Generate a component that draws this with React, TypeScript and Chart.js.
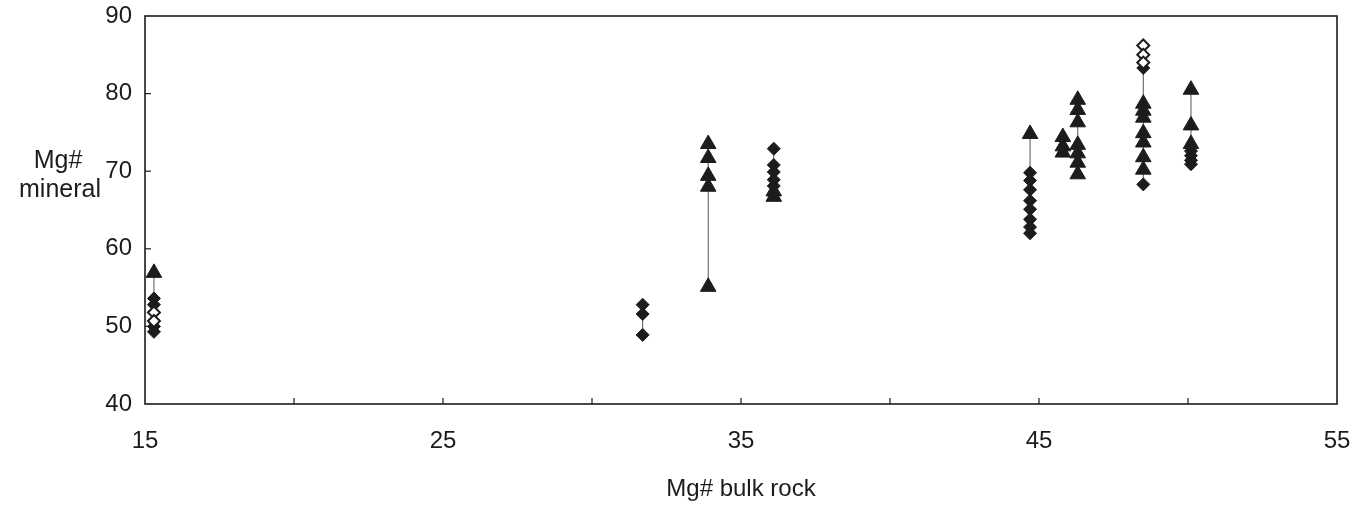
import React, { useEffect, useRef } from "react";
import { Chart, registerables } from "chart.js";

Chart.register(...registerables);

// Tick labels
const xTickLabels = [15, 25, 35, 45, 55];
const yTickLabels = [40, 50, 60, 70, 80, 90];

// Mg# of bulk rock for each sample (x position of each column)
const bulkRock = [15.3, 31.7, 33.9, 36.1, 44.7, 45.8, 46.3, 48.5, 50.1];

// Mg# mineral values per sample
const triangleValues = [
  [56.9],
  [],
  [73.5, 71.7, 69.4, 68.0, 55.1],
  [67.4, 66.7],
  [74.8],
  [74.4, 73.2, 72.4],
  [79.2, 77.9, 76.3, 73.4, 72.3, 71.1, 69.6],
  [78.7, 77.8, 76.9, 74.9, 73.7, 71.8, 70.2],
  [80.5, 75.9, 73.5],
];
const diamondValues = [
  [53.6, 52.8, 50.0, 49.3],
  [52.8, 51.6, 48.9],
  [],
  [72.9, 70.8, 69.9, 68.9, 68.1],
  [69.8, 68.8, 67.6, 66.2, 65.1, 63.8, 62.8, 62.0],
  [],
  [],
  [83.3, 68.3],
  [72.6, 72.0, 71.4, 70.9],
];
const openDiamondValues = [
  [51.8, 50.7],
  [],
  [],
  [],
  [],
  [],
  [],
  [86.2, 85.0, 84.0],
  [],
];

const FONT = "'Liberation Sans', Arial, Helvetica, sans-serif";
const INK = "#1c1c1c";

function toPoints(groups: number[][]) {
  const pts: { x: number; y: number }[] = [];
  groups.forEach((vals, i) => vals.forEach((v) => pts.push({ x: bulkRock[i], y: v })));
  return pts;
}

function rangeLines() {
  const pts: { x: number; y: number | null }[] = [];
  bulkRock.forEach((x, i) => {
    const all = [...triangleValues[i], ...diamondValues[i], ...openDiamondValues[i]];
    if (all.length < 2) return;
    pts.push({ x, y: Math.min(...all) });
    pts.push({ x, y: Math.max(...all) });
    pts.push({ x, y: null });
  });
  return pts;
}

const framePlugin = {
  id: "frameAndTitles",
  afterDraw(chart: any) {
    const { ctx, chartArea } = chart;
    const { left, right, top, bottom } = chartArea;
    ctx.save();
    ctx.strokeStyle = INK;
    ctx.lineWidth = 1.6;
    ctx.strokeRect(left, top, right - left, bottom - top);
    // inward ticks
    ctx.lineWidth = 1.2;
    const xs = chart.scales.x;
    const ys = chart.scales.y;
    for (let v = 20; v <= 50; v += 5) {
      const px = xs.getPixelForValue(v);
      ctx.beginPath();
      ctx.moveTo(px, bottom);
      ctx.lineTo(px, bottom - 6);
      ctx.stroke();
    }
    for (let v = 50; v <= 80; v += 10) {
      const py = ys.getPixelForValue(v);
      ctx.beginPath();
      ctx.moveTo(left, py);
      ctx.lineTo(left + 6, py);
      ctx.stroke();
    }
    // titles
    ctx.fillStyle = INK;
    ctx.font = `24px ${FONT}`;
    ctx.textAlign = "center";
    ctx.textBaseline = "middle";
    ctx.fillText("Mg# bulk rock", (left + right) / 2, 489);
    ctx.font = `25px ${FONT}`;
    ctx.fillText("Mg#", 58, 161);
    ctx.fillText("mineral", 60, 190);
    ctx.restore();
  },
};

export default function App() {
  const ref = useRef<HTMLCanvasElement | null>(null);
  useEffect(() => {
    if (!ref.current) return;
    const chart = new Chart(ref.current, {
      type: "scatter",
      data: {
        datasets: [
          {
            label: "triangles",
            data: toPoints(triangleValues),
            pointStyle: "triangle",
            pointRadius: 9,
            backgroundColor: INK,
            borderColor: INK,
            borderWidth: 1,
            order: 1,
          },
          {
            label: "diamonds",
            data: toPoints(diamondValues),
            pointStyle: "rectRot",
            pointRadius: 6.5,
            backgroundColor: INK,
            borderColor: INK,
            borderWidth: 1,
            order: 2,
          },
          {
            label: "open diamonds",
            data: toPoints(openDiamondValues),
            pointStyle: "rectRot",
            pointRadius: 6,
            backgroundColor: "#ffffff",
            borderColor: INK,
            borderWidth: 2,
            order: 0,
          },
          {
            type: "line",
            label: "range",
            data: rangeLines() as any,
            showLine: true,
            spanGaps: false,
            pointRadius: 0,
            borderColor: "#555",
            borderWidth: 1,
            order: 10,
          } as any,
        ],
      },
      options: {
        animation: false,
        responsive: false,
        maintainAspectRatio: false,
        layout: { padding: { top: 16, right: 31, left: 0, bottom: 0 } },
        plugins: { legend: { display: false }, tooltip: { enabled: false } },
        scales: {
          x: {
            type: "linear",
            min: 15,
            max: 55,
            ticks: {
              stepSize: 5,
              autoSkip: false,
              maxRotation: 0,
              padding: 23,
              color: INK,
              font: { family: FONT, size: 24 },
              callback: (v: any) => (xTickLabels.includes(Number(v)) ? String(v) : ""),
            },
            grid: { drawOnChartArea: false, drawTicks: false, display: false },
            border: { display: false },
            afterFit: (s: any) => {
              s.height = 101;
              s.paddingLeft = 0;
              s.paddingRight = 0;
            },
          },
          y: {
            type: "linear",
            min: 40,
            max: 90,
            ticks: {
              stepSize: 10,
              padding: 13,
              color: INK,
              font: { family: FONT, size: 24 },
              callback: (v: any) => (yTickLabels.includes(Number(v)) ? String(v) : ""),
            },
            grid: { drawOnChartArea: false, drawTicks: false, display: false },
            border: { display: false },
            afterFit: (s: any) => {
              s.width = 145;
              s.paddingTop = 0;
              s.paddingBottom = 0;
            },
          },
        },
      },
      plugins: [framePlugin],
    });
    return () => chart.destroy();
  }, []);
  return (
    <div style={{ position: "fixed", left: 0, top: 0, width: 1368, height: 505, background: "#fff" }}>
      <canvas ref={ref} width={1368} height={505} style={{ display: "block", width: 1368, height: 505 }} />
    </div>
  );
}
